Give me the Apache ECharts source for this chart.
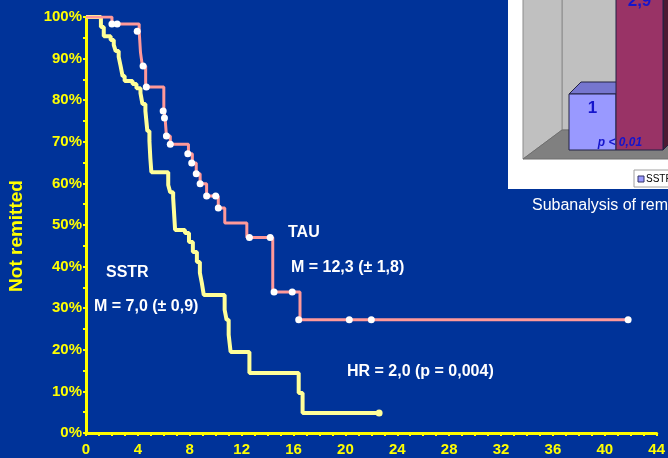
<!DOCTYPE html>
<html>
<head>
<meta charset="utf-8">
<script src="https://cdn.jsdelivr.net/npm/echarts@6/dist/echarts.min.js"></script>
<style>html,body{margin:0;padding:0;background:#003399;}#c{width:668px;height:458px;}</style>
</head>
<body>
<div id="c"></div>
<script>
// ---- Data (months, % not remitted) ----
const xTicks = [0, 4, 8, 12, 16, 20, 24, 28, 32, 36, 40, 44];
const yTicks = [0, 10, 20, 30, 40, 50, 60, 70, 80, 90, 100];

const tauCurve = [[0,100],[2.0,98.3],[4.1,96.6],[4.2,91.5],[4.35,88.2],[4.6,83.2],[6.0,77.4],[6.1,75.7],[6.2,71.4],[6.5,69.4],[7.9,67.1],[8.2,64.9],[8.5,62.3],[8.8,59.9],[9.3,57.0],[10.2,54.1],[10.7,50.5],[12.4,47.0],[14.4,33.9],[16.5,27.2],[41.8,27.2]];
const tauCensored = [[2.0,98.3],[2.4,98.3],[3.95,96.6],[4.4,88.2],[4.65,83.2],[5.95,77.4],[6.05,75.7],[6.2,71.4],[6.5,69.4],[7.85,67.1],[8.15,64.9],[8.5,62.3],[8.8,59.9],[9.3,57.0],[10.0,57.0],[10.2,54.1],[12.6,47.0],[14.2,47.0],[14.5,33.9],[15.9,33.9],[16.4,27.2],[20.3,27.2],[22.0,27.2],[41.8,27.2]];

const sstrCurve = [[0,100],[1.15,97.6],[1.37,95.4],[1.9,94.5],[2.14,93.3],[2.29,91.8],[2.52,90.4],[2.67,88.2],[2.82,85.8],[2.98,84.6],[3.59,83.9],[3.89,82.9],[4.2,81.7],[4.35,79.1],[4.58,77.4],[4.73,72.6],[4.89,70.2],[4.96,66.1],[5.04,62.7],[6.34,59.6],[6.49,57.9],[6.72,56.5],[6.87,48.8],[7.63,48.1],[7.94,45.9],[8.24,43.5],[8.55,41.1],[8.78,38.5],[8.93,36.1],[9.08,33.2],[10.69,29.6],[10.84,27.2],[11.0,23.6],[11.15,19.5],[12.6,14.4],[16.4,9.6],[16.7,4.8],[22.6,4.8]];
const sstrEnd = [[22.6,4.8]];

// inset bar chart (relative risk of remission)
const insetCategories = ['SSTR', 'TAU'];
const insetValues = [1, 2.9];
const insetLabels = ['1', '2,9'];

const FONT = '"Liberation Sans", Arial, sans-serif';
const YEL = '#FFFF00';

const chart = echarts.init(document.getElementById('c'), null, {renderer: 'canvas'});

const insetFaces = [
  {front: '#9999FF', top: '#7676CF', side: '#6A6AB8'},
  {front: '#993366', top: '#6E2449', side: '#4D1A33'}
];

chart.setOption({
  backgroundColor: '#003399',
  animation: false,
  grid: [
    {left: 86, right: 5, top: 17, bottom: 25, containLabel: false},
    {left: 569, width: 94, top: 38, height: 112}
  ],
  xAxis: [
    {
      type: 'value', gridIndex: 0, min: 0, max: 44, interval: 4,
      axisLine: {show: true, onZero: false, lineStyle: {color: YEL, width: 3}},
      axisTick: {show: true, length: 3, lineStyle: {color: YEL, width: 2}},
      minorTick: {show: true, splitNumber: 4, length: 3, lineStyle: {color: YEL, width: 2}},
      splitLine: {show: false},
      axisLabel: {color: YEL, fontSize: 15, fontWeight: 'bold', fontFamily: FONT, margin: 9,
        formatter: v => xTicks.includes(v) ? String(v) : ''}
    },
    {type: 'category', gridIndex: 1, data: insetCategories, show: false}
  ],
  yAxis: [
    {
      type: 'value', gridIndex: 0, min: 0, max: 100, interval: 10,
      axisLine: {show: true, onZero: false, lineStyle: {color: YEL, width: 3}},
      axisTick: {show: true, length: 3, lineStyle: {color: YEL, width: 2}},
      minorTick: {show: true, splitNumber: 2, length: 3, lineStyle: {color: YEL, width: 2}},
      splitLine: {show: false},
      axisLabel: {color: YEL, fontSize: 15, fontWeight: 'bold', fontFamily: FONT, margin: 4,
        formatter: v => yTicks.includes(v) ? v + '%' : ''}
    },
    {type: 'value', gridIndex: 1, min: 0, max: 2, show: false}
  ],
  graphic: [
    // inset panel (cropped at the right/top edge of the slide)
    {type: 'rect', z: 0, shape: {x: 508, y: -2, width: 170, height: 191}, style: {fill: '#FFFFFF'}},
    {type: 'rect', z: 1, shape: {x: 562, y: -2, width: 110, height: 132}, style: {fill: '#C0C0C0', stroke: '#8C8C8C', lineWidth: 1}},
    {type: 'polygon', z: 1, shape: {points: [[523,-2],[562,-2],[562,130],[523,159]]}, style: {fill: '#C0C0C0', stroke: '#8C8C8C', lineWidth: 1}},
    {type: 'polygon', z: 1, shape: {points: [[523,159],[562,130],[672,130],[672,159]]}, style: {fill: '#808080', stroke: '#6E6E6E', lineWidth: 1}},
    {type: 'text', z: 20, style: {x: 620, y: 143, text: 'p < 0,01', fill: '#1515CC', font: 'italic bold 12px ' + FONT, textAlign: 'center', textVerticalAlign: 'middle'}},
    {type: 'rect', z: 1, shape: {x: 634, y: 170, width: 40, height: 17}, style: {fill: '#FFFFFF', stroke: '#A0A0A0', lineWidth: 1}},
    {type: 'rect', z: 2, shape: {x: 638, y: 176, width: 6, height: 6}, style: {fill: '#9999FF', stroke: '#333366', lineWidth: 1}},
    {type: 'text', z: 2, style: {x: 646, y: 179, text: 'SSTR', fill: '#000000', font: '10px ' + FONT, textVerticalAlign: 'middle'}},
    {type: 'text', z: 2, style: {x: 532, y: 206, text: 'Subanalysis of remission', fill: '#FFFFFF', font: '16px ' + FONT, textVerticalAlign: 'middle'}},
    // axis title and annotations of the main chart
    {type: 'text', z: 10, x: 17, y: 236, rotation: Math.PI / 2,
      style: {x: 0, y: 0, text: 'Not remitted', fill: YEL, font: 'bold 19px ' + FONT, textAlign: 'center', textVerticalAlign: 'middle'}},
    {type: 'text', z: 10, style: {x: 288, y: 233, text: 'TAU', fill: '#FFFFFF', font: 'bold 16px ' + FONT, textVerticalAlign: 'middle'}},
    {type: 'text', z: 10, style: {x: 291, y: 268, text: 'M = 12,3 (± 1,8)', fill: '#FFFFFF', font: 'bold 16px ' + FONT, textVerticalAlign: 'middle'}},
    {type: 'text', z: 10, style: {x: 106, y: 273, text: 'SSTR', fill: '#FFFFFF', font: 'bold 16px ' + FONT, textVerticalAlign: 'middle'}},
    {type: 'text', z: 10, style: {x: 94, y: 307, text: 'M = 7,0 (± 0,9)', fill: '#FFFFFF', font: 'bold 16px ' + FONT, textVerticalAlign: 'middle'}},
    {type: 'text', z: 10, style: {x: 347, y: 372, text: 'HR = 2,0 (p = 0,004)', fill: '#FFFFFF', font: 'bold 16px ' + FONT, textVerticalAlign: 'middle'}}
  ],
  series: [
    {
      name: 'SSTR', type: 'line', xAxisIndex: 0, yAxisIndex: 0, data: sstrCurve, step: 'end',
      showSymbol: false, lineStyle: {color: '#FFFF99', width: 4}, z: 3
    },
    {
      name: 'SSTR end', type: 'scatter', xAxisIndex: 0, yAxisIndex: 0, data: sstrEnd,
      symbolSize: 7, itemStyle: {color: '#FFFF99', opacity: 1}, z: 3
    },
    {
      name: 'TAU', type: 'line', xAxisIndex: 0, yAxisIndex: 0, data: tauCurve, step: 'end',
      showSymbol: false, lineStyle: {color: '#FF9999', width: 3}, z: 4
    },
    {
      name: 'TAU censored', type: 'scatter', xAxisIndex: 0, yAxisIndex: 0, data: tauCensored,
      symbolSize: 7, itemStyle: {color: '#FFFFFF', opacity: 1}, z: 5
    },
    {
      name: 'Inset', type: 'custom', xAxisIndex: 1, yAxisIndex: 1, clip: false, z: 6,
      data: insetValues.map((v, i) => [i, v]),
      renderItem: function (params, api) {
        const i = api.value(0);
        const top = api.coord([i, api.value(1)]);
        const base = api.coord([i, 0]);
        const w = api.size([1, 0])[0];
        const x0 = top[0] - w / 2, x1 = top[0] + w / 2;
        const d = 12;
        const f = insetFaces[i];
        return {
          type: 'group',
          children: [
            {type: 'polygon', shape: {points: [[x1, top[1]], [x1 + d, top[1] - d], [x1 + d, base[1] - d], [x1, base[1]]]}, style: {fill: f.side, stroke: '#222244', lineWidth: 1}},
            {type: 'polygon', shape: {points: [[x0, top[1]], [x0 + d, top[1] - d], [x1 + d, top[1] - d], [x1, top[1]]]}, style: {fill: f.top, stroke: '#222244', lineWidth: 1}},
            {type: 'rect', shape: {x: x0, y: top[1], width: w, height: base[1] - top[1]}, style: {fill: f.front, stroke: '#222244', lineWidth: 1}},
            {type: 'text', style: {x: top[0], y: top[1] + 14, text: insetLabels[i], fill: '#1515CC', font: 'bold 17px ' + FONT, textAlign: 'center', textVerticalAlign: 'middle'}}
          ]
        };
      }
    }
  ]
});
</script>
</body>
</html>
